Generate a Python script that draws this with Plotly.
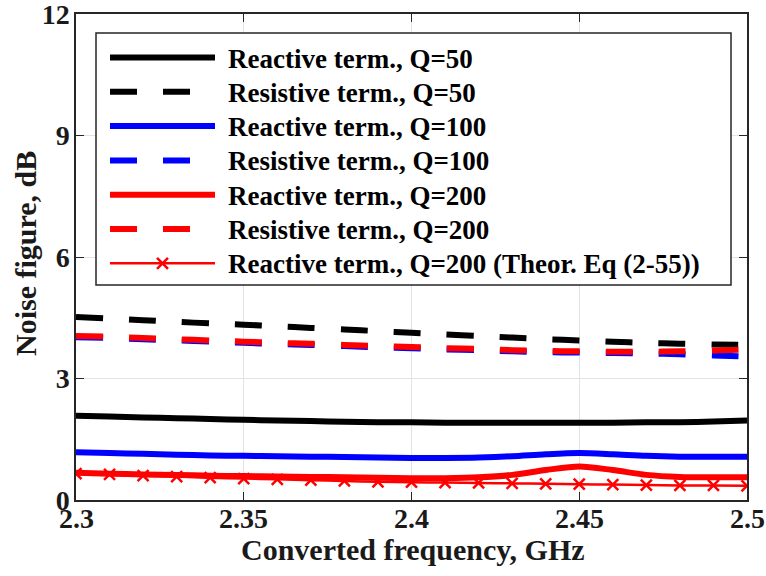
import plotly.graph_objects as go

# ---------------- data ----------------
freq = [2.30, 2.31, 2.32, 2.33, 2.34, 2.35, 2.36, 2.37, 2.38, 2.39, 2.40,
        2.41, 2.42, 2.43, 2.44, 2.45, 2.46, 2.47, 2.48, 2.49, 2.50]

reac_q50 = [2.08, 2.06, 2.04, 2.02, 2.00, 1.98, 1.96, 1.95, 1.93, 1.92, 1.92,
            1.91, 1.91, 1.91, 1.91, 1.91, 1.91, 1.92, 1.92, 1.94, 1.96]
resi_q50 = [4.52, 4.48, 4.44, 4.40, 4.36, 4.33, 4.29, 4.25, 4.21, 4.17, 4.13,
            4.09, 4.05, 4.01, 3.97, 3.94, 3.91, 3.88, 3.86, 3.84, 3.83]
reac_q100 = [1.18, 1.16, 1.14, 1.12, 1.10, 1.09, 1.08, 1.07, 1.06, 1.05, 1.04,
             1.04, 1.05, 1.08, 1.13, 1.16, 1.13, 1.09, 1.07, 1.07, 1.07]
resi_q100 = [4.02, 4.00, 3.97, 3.94, 3.91, 3.88, 3.85, 3.83, 3.80, 3.77, 3.75,
             3.72, 3.70, 3.67, 3.65, 3.64, 3.63, 3.62, 3.60, 3.57, 3.54]
reac_q200 = [0.67, 0.65, 0.63, 0.62, 0.60, 0.59, 0.58, 0.57, 0.56, 0.55, 0.54,
             0.54, 0.56, 0.62, 0.74, 0.83, 0.74, 0.62, 0.57, 0.56, 0.56]
resi_q200 = [4.05, 4.03, 4.00, 3.97, 3.94, 3.91, 3.88, 3.86, 3.83, 3.80, 3.78,
             3.75, 3.73, 3.70, 3.68, 3.67, 3.66, 3.66, 3.67, 3.69, 3.72]
theor_q200 = [0.65, 0.63, 0.60, 0.58, 0.55, 0.53, 0.51, 0.49, 0.47, 0.45, 0.44,
              0.43, 0.42, 0.41, 0.40, 0.39, 0.38, 0.37, 0.36, 0.36, 0.35]

series_names = [
    "Reactive term., Q=50",
    "Resistive term., Q=50",
    "Reactive term., Q=100",
    "Resistive term., Q=100",
    "Reactive term., Q=200",
    "Resistive term., Q=200",
    "Reactive term., Q=200 (Theor. Eq (2-55))",
]

x_tickvals = [2.3, 2.35, 2.4, 2.45, 2.5]
x_ticktext = ["2.3", "2.35", "2.4", "2.45", "2.5"]
y_tickvals = [0, 3, 6, 9, 12]
y_ticktext = ["0", "3", "6", "9", "12"]

x_title = "Converted frequency, GHz"
y_title = "Noise figure, dB"

# ---------------- style ----------------
W, H = 766, 576
ML, MR, MT, MB = 76, 19, 14, 76
PW, PH = W - ML - MR, H - MT - MB
FONT = "Liberation Serif"
DASH = "27px,26px"
THICK = 6
THIN = 2.5
TICKFONT = dict(family=FONT, size=28, color="#1a1a1a", weight="bold")

styles = [
    dict(color="#000000", dash="solid", width=THICK),
    dict(color="#000000", dash=DASH, width=THICK),
    dict(color="#0000FF", dash="solid", width=THICK),
    dict(color="#0000FF", dash=DASH, width=THICK),
    dict(color="#FF0000", dash="solid", width=THICK),
    dict(color="#FF0000", dash=DASH, width=THICK),
    dict(color="#FF0000", dash="solid", width=THIN),
]
series = [reac_q50, resi_q50, reac_q100, resi_q100, reac_q200, resi_q200, theor_q200]


def px2paper_x(px):
    return (px - ML) / PW


def px2paper_y(py):
    return (H - MB - py) / PH


fig = go.Figure()
for i, (ys, st) in enumerate(zip(series, styles)):
    kw = {}
    mode = "lines"
    if i == 6:
        mode = "lines+markers"
        kw["marker"] = dict(symbol="x-thin", size=11,
                            line=dict(color=st["color"], width=2.5),
                            color=st["color"])
    fig.add_trace(go.Scatter(
        x=freq, y=ys, mode=mode, name=series_names[i],
        line=dict(color=st["color"], dash=st["dash"], width=st["width"],
                  shape="spline", smoothing=0.8),
        showlegend=False, cliponaxis=True, **kw))

# ---------------- custom legend (MATLAB style) ----------------
shapes = []
annotations = []
box_l, box_r, box_t, box_b = 96, 731, 33, 285
shapes.append(dict(type="rect", xref="paper", yref="paper",
                   x0=px2paper_x(box_l), x1=px2paper_x(box_r),
                   y0=px2paper_y(box_b), y1=px2paper_y(box_t),
                   line=dict(color="#262626", width=1.5),
                   fillcolor="white", layer="above"))
row0, row_step = 57.5, 34.3
samp_l, samp_r, text_x = 110, 215, 226
for i, st in enumerate(styles):
    yc = row0 + i * row_step
    shapes.append(dict(type="line", xref="paper", yref="paper",
                       x0=px2paper_x(samp_l), x1=px2paper_x(samp_r),
                       y0=px2paper_y(yc), y1=px2paper_y(yc),
                       line=dict(color=st["color"], width=st["width"], dash=st["dash"]),
                       layer="above"))
    if i == 6:
        cx, s = (samp_l + samp_r) / 2, 5.5
        for dy in (-1, 1):
            shapes.append(dict(type="line", xref="paper", yref="paper",
                               x0=px2paper_x(cx - s), x1=px2paper_x(cx + s),
                               y0=px2paper_y(yc - dy * s), y1=px2paper_y(yc + dy * s),
                               line=dict(color=st["color"], width=2.5),
                               layer="above"))
    annotations.append(dict(xref="paper", yref="paper",
                            x=px2paper_x(text_x), y=px2paper_y(yc + 1),
                            xanchor="left", yanchor="middle", showarrow=False,
                            text="<b>" + series_names[i] + "</b>",
                            font=dict(family=FONT, size=27, color="black")))

# x tick labels (placed on the x scale, tight under the axis like MATLAB)
for v, t in zip(x_tickvals, x_ticktext):
    annotations.append(dict(xref="x", yref="paper", x=v, y=0,
                            xanchor="center", yanchor="top", yshift=-1,
                            showarrow=False, text="<b>" + t + "</b>",
                            font=TICKFONT))

# axis titles
annotations.append(dict(xref="paper", yref="paper",
                        x=px2paper_x(413), y=px2paper_y(549),
                        xanchor="center", yanchor="middle", showarrow=False,
                        text="<b>" + x_title + "</b>",
                        font=dict(family=FONT, size=30, color="#1a1a1a")))
annotations.append(dict(xref="paper", yref="paper",
                        x=px2paper_x(25), y=px2paper_y(254),
                        xanchor="center", yanchor="middle", showarrow=False,
                        textangle=-90,
                        text="<b>" + y_title + "</b>",
                        font=dict(family=FONT, size=30, color="#1a1a1a")))

axis_common = dict(showline=True, linecolor="#262626", linewidth=1.5, mirror="ticks",
                   ticks="inside", ticklen=8, tickwidth=1.2, tickcolor="#262626",
                   showgrid=True, gridcolor="#e3e3e3", gridwidth=1, zeroline=False,
                   ticklabeloverflow="allow", tickfont=TICKFONT)

fig.update_layout(
    width=W, height=H,
    margin=dict(l=ML, r=MR, t=MT, b=MB, autoexpand=False),
    paper_bgcolor="white", plot_bgcolor="white",
    xaxis=dict(range=[2.3, 2.5], tickvals=x_tickvals, ticktext=x_ticktext,
               showticklabels=False, **axis_common),
    yaxis=dict(range=[0, 12], tickvals=y_tickvals, ticktext=y_ticktext,
               ticklabelstandoff=-1, **axis_common),
    shapes=shapes, annotations=annotations, showlegend=False,
)

fig.write_html("out.html")
